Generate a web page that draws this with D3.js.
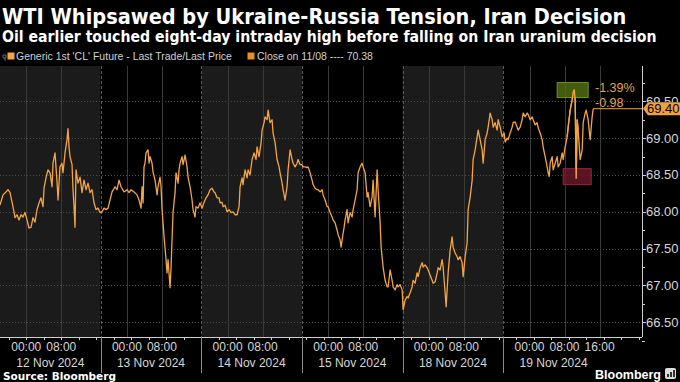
<!DOCTYPE html>
<html><head><meta charset="utf-8">
<script src="https://cdn.jsdelivr.net/npm/d3@7/dist/d3.min.js"></script>
<style>html,body{margin:0;padding:0;background:#000;}svg{display:block;}</style>
</head><body>
<svg id="chart" width="680" height="382"></svg>
<script>
// ---------- data ----------
const titleText = "WTI Whipsawed by Ukraine-Russia Tension, Iran Decision";
const subtitleText = "Oil earlier touched eight-day intraday high before falling on Iran uranium decision";
const seriesLabel = "Generic 1st 'CL' Future - Last Trade/Last Price";
const closeLabel = "Close on 11/08";
const prevClose = 70.38;
const sourceText = "Source: Bloomberg";
// trading sessions (18:00 prior day to 17:00), 23 hours each
const sessionDates = ["12 Nov 2024", "13 Nov 2024", "14 Nov 2024", "15 Nov 2024", "18 Nov 2024", "19 Nov 2024"];
const sessionShaded = [true, false, true, false, true, false];
const sessionHours = 23;
const timeLabels = ["00:00", "08:00", "16:00"];
const timeLabelOffsets = [6, 14, 22];      // hours after 18:00 session open
const yTickValues = [66.5, 67.0, 67.5, 68.0, 68.5, 69.0, 69.5];
const yDomain = [66.30, 69.98];
const xDomainHours = [0, 146.7];
// [hours since 11 Nov 18:00 session open (trading time), price]
const wti = [
[0,68.09],[0.69,68.23],[1.37,68.27],[1.83,68.30],[2.29,68.26],[2.97,68.07],[3.43,67.92],[3.89,67.96],
[4.34,67.89],[4.80,67.96],[5.26,67.93],[5.71,67.99],[6.17,67.89],[6.63,67.78],[7.09,67.79],[7.54,67.92],
[8.00,67.86],[8.46,68.03],[8.91,68.12],[9.37,68.19],[9.83,68.07],[10.06,68.32],[10.51,68.46],[10.97,68.57],
[11.43,68.53],[11.89,68.34],[12.11,68.66],[12.57,68.80],[13.03,68.41],[13.26,68.16],[13.71,68.61],[14.17,68.66],
[14.40,68.53],[14.86,68.80],[15.31,68.98],[15.54,69.13],[15.77,68.88],[16.00,68.75],[16.46,68.64],[16.69,68.30],
[16.91,68.07],[17.14,67.79],[17.37,68.57],[17.83,68.39],[18.29,68.47],[18.74,68.26],[19.20,68.43],[19.66,68.30],
[20.11,68.39],[20.57,68.26],[21.03,68.30],[21.49,68.12],[21.94,68.03],[22.40,68.05],[22.86,67.99],
[23.31,68.00],[23.77,68.05],[24.23,68.03],[24.69,68.05],[25.14,68.16],[25.60,68.27],[26.29,68.34],[26.74,68.30],
[27.20,68.43],[27.66,68.34],[28.34,68.27],[29.03,68.30],[29.49,68.26],[29.94,68.30],[30.63,68.27],[31.31,68.23],
[31.77,68.16],[32.23,68.05],[32.46,68.34],[32.69,68.12],[32.91,68.61],[33.14,68.66],[33.37,68.80],[33.83,68.84],
[34.06,68.66],[34.29,68.75],[34.74,68.66],[34.97,68.54],[35.43,68.43],[35.89,68.23],[36.11,68.34],[36.57,68.47],
[36.80,68.34],[37.03,68.03],[37.49,67.66],[37.94,67.35],[38.17,67.17],[38.40,67.35],[38.86,66.97],[39.09,67.25],
[39.31,67.62],[39.54,67.99],[40.00,68.26],[40.23,68.53],[40.69,68.39],[40.91,68.57],[41.14,68.66],[41.60,68.75],
[41.83,68.64],[42.29,68.77],[42.74,68.61],[42.97,68.47],[43.43,68.34],[43.89,68.16],[44.11,68.03],[44.57,67.93],
[44.80,68.07],[45.26,68.05],[45.71,68.12],[46.17,68.05],
[46.63,68.13],[47.09,68.19],[47.54,68.23],[48.00,68.30],[48.46,68.32],[48.91,68.27],[49.14,68.26],[49.60,68.19],
[50.06,68.19],[50.29,68.12],[50.74,68.13],[50.97,68.07],[51.43,68.09],[51.89,68.00],[52.34,68.03],[52.80,67.99],
[53.26,68.00],[53.71,67.96],[54.17,67.96],[54.63,68.07],[54.86,68.34],[55.31,68.46],[55.54,68.37],[56.00,68.57],
[56.46,68.46],[56.69,68.57],[57.14,68.50],[57.60,68.71],[58.06,68.80],[58.51,68.71],[58.74,68.88],[59.20,68.75],
[59.66,68.94],[59.89,69.11],[60.34,69.21],[60.57,69.29],[61.03,69.25],[61.26,69.38],[61.71,69.21],[62.17,69.25],
[62.40,69.07],[62.86,68.94],[63.31,68.71],[63.77,68.61],[64.00,68.53],[64.46,68.39],[64.69,68.30],[65.14,68.16],
[65.60,68.34],[65.83,68.57],[66.29,68.84],[66.74,68.71],[66.97,68.66],[67.43,68.61],[67.89,68.66],[68.11,68.71],
[68.57,68.64],[69.03,68.64],
[69.26,68.61],[69.71,68.61],[70.17,68.60],[70.40,68.61],[70.86,68.53],[71.31,68.43],[71.54,68.37],[72.00,68.32],
[72.46,68.30],[72.69,68.30],[73.14,68.27],[73.60,68.30],[73.83,68.23],[74.29,68.16],[74.74,68.07],[74.97,68.07],
[75.43,67.99],[75.89,67.93],[76.11,67.89],[76.57,67.85],[77.03,67.75],[77.26,67.69],[77.71,67.62],[77.94,67.52],
[78.40,67.71],[78.63,67.79],[78.86,67.89],[79.31,68.03],[79.54,67.85],[80.00,67.99],[80.46,67.93],[80.69,68.03],
[81.14,68.16],[81.60,68.30],[81.83,68.53],[82.29,68.61],[82.74,68.66],[82.97,68.61],[83.43,68.53],[83.89,68.20],
[84.11,68.26],[84.57,68.07],[85.03,68.20],[85.26,68.43],[85.71,67.93],[86.17,68.57],[86.40,68.30],[86.86,67.85],
[87.09,67.52],[87.54,67.25],[88.00,67.07],[88.46,66.98],[88.69,66.98],[89.14,67.21],[89.60,67.07],[89.83,66.98],
[90.29,66.94],[90.74,67.01],[90.97,66.98],[91.43,67.01],[91.89,66.94],
[92.11,66.67],[92.57,66.80],[93.03,66.85],[93.26,66.83],[93.71,66.90],[94.17,66.98],[94.40,67.07],[94.86,67.03],
[95.31,67.17],[95.54,67.12],[96.00,67.24],[96.46,67.31],[96.69,67.25],[97.14,67.28],[97.60,67.24],[97.83,67.21],
[98.29,67.14],[98.74,67.07],[98.97,67.03],[99.43,67.05],[99.89,67.17],[100.11,67.24],[100.57,67.21],[101.03,67.35],
[101.26,67.25],[101.71,66.90],[101.94,66.71],[102.40,67.17],[102.86,67.48],[103.31,67.66],[103.54,67.52],[104.00,67.44],
[104.46,67.39],[104.69,67.35],[105.14,67.39],[105.60,67.31],[105.83,67.12],[106.29,67.39],[106.74,67.58],[106.97,68.03],
[107.43,68.20],[107.89,68.43],[108.11,68.71],[108.57,68.84],[109.03,69.02],[109.26,69.11],[109.71,68.98],[110.17,68.84],
[110.40,68.66],[110.86,68.98],[111.31,69.07],[111.54,69.15],[112.00,69.34],[112.46,69.25],[112.69,69.15],[113.14,69.21],
[113.60,69.11],[113.83,69.25],[114.29,69.15],[114.74,69.02],
[115.20,69.07],[115.43,68.95],[115.89,69.00],[116.11,68.98],[116.57,69.07],[117.03,69.15],[117.26,69.21],[117.71,69.22],
[118.17,69.15],[118.40,69.11],[118.86,69.15],[119.31,69.25],[119.54,69.34],[120.00,69.29],[120.46,69.34],[120.69,69.32],
[121.14,69.25],[121.60,69.29],[121.83,69.25],[122.29,69.18],[122.74,69.21],[122.97,69.14],[123.43,69.07],[123.89,68.98],
[124.11,68.88],[124.57,68.75],[125.03,68.61],[125.26,68.53],[125.49,68.48],[125.71,68.66],[126.17,68.75],[126.40,68.57],
[126.86,68.66],[127.31,68.75],[127.54,68.61],[128.00,68.66],[128.46,68.80],[128.69,68.71],[129.14,68.88],[129.60,69.02],
[129.83,69.15],[130.29,69.38],[130.74,69.52],[130.97,69.62],[131.20,69.66],[131.43,69.52],[131.66,68.45],[131.89,69.25],
[132.11,69.11],[132.57,68.71],[133.03,68.84],[133.26,69.21],[133.71,69.34],[133.94,69.38],[134.40,69.25],[134.63,69.11],
[134.86,68.98],[135.31,69.29],[135.54,69.40]
];

// ---------- layout ----------
const W = 680, H = 382;
const plot = {left: 0, right: 642, top: 66, bottom: 337};
const orange = "#f5a53f";
const sans = "Liberation Sans, Arial, sans-serif";
const svg = d3.select("#chart");
svg.append("rect").attr("width", W).attr("height", H).attr("fill", "#000");

const x = d3.scaleLinear().domain(xDomainHours).range([plot.left, plot.right]);
const y = d3.scaleLinear().domain(yDomain).range([plot.bottom, plot.top]);

// fit text to a target width by horizontal scaling (condensed look)
function fitText(sel, x0, baseline, targetWidth) {
  const w = sel.node().getComputedTextLength();
  const k = Math.min(1, targetWidth / w);
  sel.attr("x", 0).attr("y", 0).attr("transform", `translate(${x0},${baseline}) scale(${k},1)`);
}

// session bands
const sessions = sessionDates.map((d, i) => ({
  label: d, shaded: sessionShaded[i], start: i * sessionHours,
  end: i === sessionDates.length - 1 ? xDomainHours[1] : (i + 1) * sessionHours
}));
svg.append("g").selectAll("rect").data(sessions).join("rect")
  .attr("x", d => x(d.start)).attr("y", plot.top)
  .attr("width", d => x(d.end) - x(d.start)).attr("height", plot.bottom - plot.top)
  .attr("fill", d => d.shaded ? "#1b1b1b" : "#000");

// horizontal grid
svg.append("g").selectAll("line").data(yTickValues).join("line")
  .attr("x1", plot.left).attr("x2", plot.right)
  .attr("y1", d => Math.round(y(d)) + 0.5).attr("y2", d => Math.round(y(d)) + 0.5)
  .attr("stroke", "#4a4a4a").attr("stroke-width", 1).attr("stroke-dasharray", "1,2");

// vertical time gridlines
const timeMarks = [];
sessions.forEach((s, i) => {
  timeLabels.forEach((t, j) => {
    if (j < 2 || i === sessions.length - 1) timeMarks.push({h: s.start + timeLabelOffsets[j], label: t});
  });
});
svg.append("g").selectAll("line").data(timeMarks).join("line")
  .attr("x1", d => Math.round(x(d.h)) + 0.5).attr("x2", d => Math.round(x(d.h)) + 0.5)
  .attr("y1", plot.top).attr("y2", plot.bottom)
  .attr("stroke", "#3a3a3a").attr("stroke-width", 1);

// session boundaries (dashed)
const bounds = sessions.slice(1).map(s => s.start);
svg.append("g").selectAll("line").data(bounds).join("line")
  .attr("x1", d => Math.round(x(d)) + 0.5).attr("x2", d => Math.round(x(d)) + 0.5)
  .attr("y1", plot.top).attr("y2", plot.bottom)
  .attr("stroke", "#5a5a5a").attr("stroke-width", 1).attr("stroke-dasharray", "3,2");

// x axis
const xAxisG = svg.append("g");
xAxisG.append("line").attr("x1", plot.left).attr("x2", plot.right)
  .attr("y1", plot.bottom + 0.5).attr("y2", plot.bottom + 0.5).attr("stroke", "#cfcfcf");
const minorTicks = d3.range(2, xDomainHours[1], 4);
xAxisG.selectAll("line.mt").data(minorTicks).join("line").attr("class", "mt")
  .attr("x1", d => Math.round(x(d)) + 0.5).attr("x2", d => Math.round(x(d)) + 0.5)
  .attr("y1", plot.bottom).attr("y2", plot.bottom + 3).attr("stroke", "#cfcfcf");
xAxisG.selectAll("line.sep").data(bounds).join("line").attr("class", "sep")
  .attr("x1", d => Math.round(x(d)) + 0.5).attr("x2", d => Math.round(x(d)) + 0.5)
  .attr("y1", plot.bottom).attr("y2", 373).attr("stroke", "#8a8a8a");
xAxisG.selectAll("text.tl").data(timeMarks).join("text").attr("class", "tl")
  .attr("x", d => x(d.h)).attr("y", 351).attr("text-anchor", "middle")
  .attr("font-family", sans).attr("font-size", 12).attr("fill", "#d6d6d6")
  .text(d => d.label);
xAxisG.selectAll("text.dl").data(sessions).join("text").attr("class", "dl")
  .attr("x", d => x(d.start + sessionHours / 2)).attr("y", 367).attr("text-anchor", "middle")
  .attr("font-family", sans).attr("font-size", 12).attr("fill", "#d6d6d6")
  .text(d => d.label);

// y axis (right)
const yAxisG = svg.append("g");
yAxisG.append("line").attr("x1", plot.right + 0.5).attr("x2", plot.right + 0.5)
  .attr("y1", plot.top).attr("y2", plot.bottom).attr("stroke", "#cfcfcf");
const yMinor = d3.range(66.25, 70.0, 0.25);
yAxisG.selectAll("line.yt").data(yMinor).join("line").attr("class", "yt")
  .attr("x1", plot.right).attr("x2", d => plot.right + (yTickValues.includes(d) ? 4 : 3))
  .attr("y1", d => Math.round(y(d)) + 0.5).attr("y2", d => Math.round(y(d)) + 0.5)
  .attr("stroke", "#cfcfcf");

// price line
const line = d3.line().x(d => x(d[0])).y(d => y(d[1]));
svg.append("path").datum(wti).attr("d", line)
  .attr("fill", "none").attr("stroke", orange).attr("stroke-width", 1.3).attr("stroke-linejoin", "round");

// last price
const last = wti[wti.length - 1];
const ty = y(last[1]);
svg.append("line").attr("x1", x(last[0])).attr("x2", plot.right)
  .attr("y1", ty).attr("y2", ty).attr("stroke", orange).attr("stroke-width", 1);

// session high / low markers
const lastSession = wti.filter(d => d[0] >= sessions[sessions.length - 1].start);
const hi = lastSession.reduce((a, b) => b[1] > a[1] ? b : a);
const lo = lastSession.reduce((a, b) => b[1] < a[1] ? b : a);
svg.append("rect").attr("x", x(hi[0]) - 17).attr("y", y(hi[1]) - 7).attr("width", 31).attr("height", 15)
  .attr("fill", "#4d6b10").attr("fill-opacity", 0.85).attr("stroke", "#6d941c");
svg.append("rect").attr("x", x(lo[0]) - 13).attr("y", y(lo[1]) - 10).attr("width", 28).attr("height", 16)
  .attr("fill", "#6a1627").attr("fill-opacity", 0.85).attr("stroke", "#93283d");
svg.append("path").datum(wti.filter(d => d[0] > 129.5 && d[0] < 132.2)).attr("d", line)
  .attr("fill", "none").attr("stroke", orange).attr("stroke-width", 1.3);

// change annotation
const chg = last[1] - prevClose;
const pct = chg / prevClose * 100;
svg.append("text").attr("x", 595).attr("y", 92).attr("font-family", sans)
  .attr("font-size", 12.5).attr("fill", "#e9a23b").text(pct.toFixed(2) + "%");
svg.append("text").attr("x", 595).attr("y", 106.5).attr("font-family", sans)
  .attr("font-size", 12.5).attr("fill", "#e9a23b").text(chg.toFixed(2));

// y tick labels: the 69.50 label sits partly behind the last-price tag (as in the reference)
const tagTop = ty - 6.5;
svg.append("defs").append("clipPath").attr("id", "tagclip")
  .append("rect").attr("x", plot.right).attr("y", 0).attr("width", W - plot.right).attr("height", tagTop);
yAxisG.selectAll("text").data(yTickValues).join("text")
  .attr("x", plot.right + 4).attr("y", d => y(d) + 4.5)
  .attr("clip-path", d => Math.abs(y(d) - ty) < 13 ? "url(#tagclip)" : null)
  .attr("font-family", sans).attr("font-size", 13).attr("fill", "#d6d6d6")
  .text(d => d.toFixed(2));

// last price tag
svg.append("path")
  .attr("d", `M${plot.right + 1},${ty} L${plot.right + 6},${ty - 6.5} L${W},${ty - 6.5} L${W},${ty + 6.5} L${plot.right + 6},${ty + 6.5} Z`)
  .attr("fill", "#f2a23a");
svg.append("text").attr("x", plot.right + 5).attr("y", ty + 4.5)
  .attr("font-family", sans).attr("font-size", 13).attr("fill", "#000")
  .text(last[1].toFixed(2));

// titles
const t1 = svg.append("text").attr("font-family", "DejaVu Sans, sans-serif")
  .attr("font-weight", "bold").attr("font-size", 21).attr("fill", "#fff").text(titleText);
fitText(t1, 2, 24, 625);
const t2 = svg.append("text").attr("font-family", "DejaVu Sans, sans-serif")
  .attr("font-weight", "bold").attr("font-size", 15).attr("fill", "#fff").text(subtitleText);
fitText(t2, 2, 42, 655);

// legend
const lg = svg.append("g").attr("font-family", sans).attr("font-size", 10.5).attr("fill", "#d0d0d0");
lg.append("path").attr("d", "M3,55 h3 v3 h-3 z M5,58 v3").attr("stroke", "#666").attr("fill", "none").attr("stroke-width", 1);
lg.append("rect").attr("x", 7.5).attr("y", 52.5).attr("width", 7).attr("height", 7).attr("fill", orange);
const l1 = lg.append("text").text(seriesLabel);
fitText(l1, 16, 60, 223);
lg.append("rect").attr("x", 247.5).attr("y", 52.5).attr("width", 7).attr("height", 7).attr("fill", "#e8901c");
const l2 = lg.append("text").text(closeLabel + " ---- " + prevClose.toFixed(2));
fitText(l2, 257, 60, 127);

// footer
svg.append("text").attr("x", 3).attr("y", 380).attr("font-family", "DejaVu Sans, sans-serif")
  .attr("font-weight", "bold").attr("font-size", 10.5).attr("fill", "#fff").text(sourceText);
svg.append("text").attr("x", 661).attr("y", 379).attr("text-anchor", "end").attr("font-family", sans)
  .attr("font-weight", "bold").attr("font-size", 12.5).attr("fill", "#fff").text("Bloomberg");
const ic = svg.append("g");
ic.append("rect").attr("x", 665).attr("y", 368).attr("width", 11).attr("height", 11).attr("rx", 2).attr("fill", "#ddd");
[[667, 3], [670, 5], [673, 7]].forEach(([bx, bh]) =>
  ic.append("rect").attr("x", bx).attr("y", 377 - bh).attr("width", 2).attr("height", bh).attr("fill", "#333"));
</script>
</body></html>
